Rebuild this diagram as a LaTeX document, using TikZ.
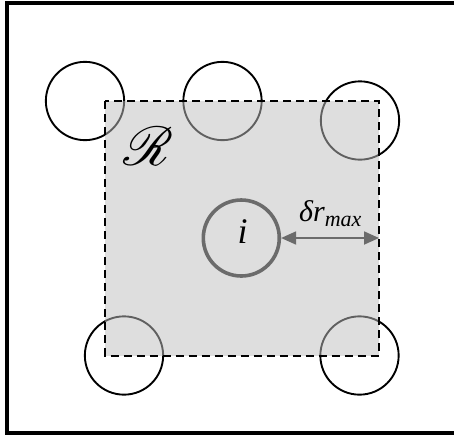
\documentclass[tikz,border=0pt]{standalone}
\usepackage{fontspec}
\setmainfont{Liberation Serif}
\usepackage{mathrsfs}
\usetikzlibrary{arrows.meta}
\definecolor{regiongray}{gray}{0.745}
\definecolor{centregray}{gray}{0.42}
\tikzset{
  particle/.style={circle, draw=black, line width=1.9pt, minimum size=78.3pt, inner sep=0pt},
  target/.style={circle, draw=centregray, line width=3.6pt, minimum size=76pt, inner sep=0pt},
  region/.style={fill=regiongray, fill opacity=0.51, draw=none},
  regionedge/.style={draw=black, line width=2pt, dash pattern=on 8pt off 5pt},
  frame/.style={draw=black, line width=4pt},
  gap/.style={draw=centregray, line width=1.8pt, {Triangle[length=15pt,width=13pt]}-{Triangle[length=15pt,width=13pt]}}
}
\begin{document}
\begin{tikzpicture}[x=1pt, y=-1pt]
  \useasboundingbox (0,0) rectangle (454,437);
  \clip (0,0) rectangle (454,437);
  % outer frame (open on the right)
  \draw[frame] (460,3) -- (7,3) -- (7,432.5) -- (460,432.5);
  % neighbouring particles
  \node[particle] (p1) at (85,101) {};
  \node[particle] (p2) at (222.5,101) {};
  \node[particle] (p3) at (360,120.5) {};
  \node[particle] (p4) at (124,355.5) {};
  \node[particle] (p5) at (359.5,355.5) {};
  % region R
  \coordinate (rnw) at (105,101);
  \coordinate (rse) at (379,355.5);
  \path[region] (rnw) rectangle (rse);
  \draw[regionedge] (rnw) rectangle (rse);
  \node (rlabel) at (148,146) {\scalebox{2.2}{\fontsize{24.88}{28}\selectfont$\mathscr{R}$}};
  % particle i and its displacement range
  \node[target] (i) at (241.3,238) {};
  \node[anchor=base] (ilabel) at (242.5,243) {\fontsize{36}{38}\selectfont\itshape i};
  \coordinate (edge) at (379,238);
  \draw[gap] (i.east) -- (edge);
  \node[anchor=base west, inner sep=0pt] (dr) at (299,221) {\fontsize{30}{32}\selectfont\itshape δr\raisebox{-5pt}{\fontsize{22}{24}\selectfont max}};
\end{tikzpicture}
\end{document}
